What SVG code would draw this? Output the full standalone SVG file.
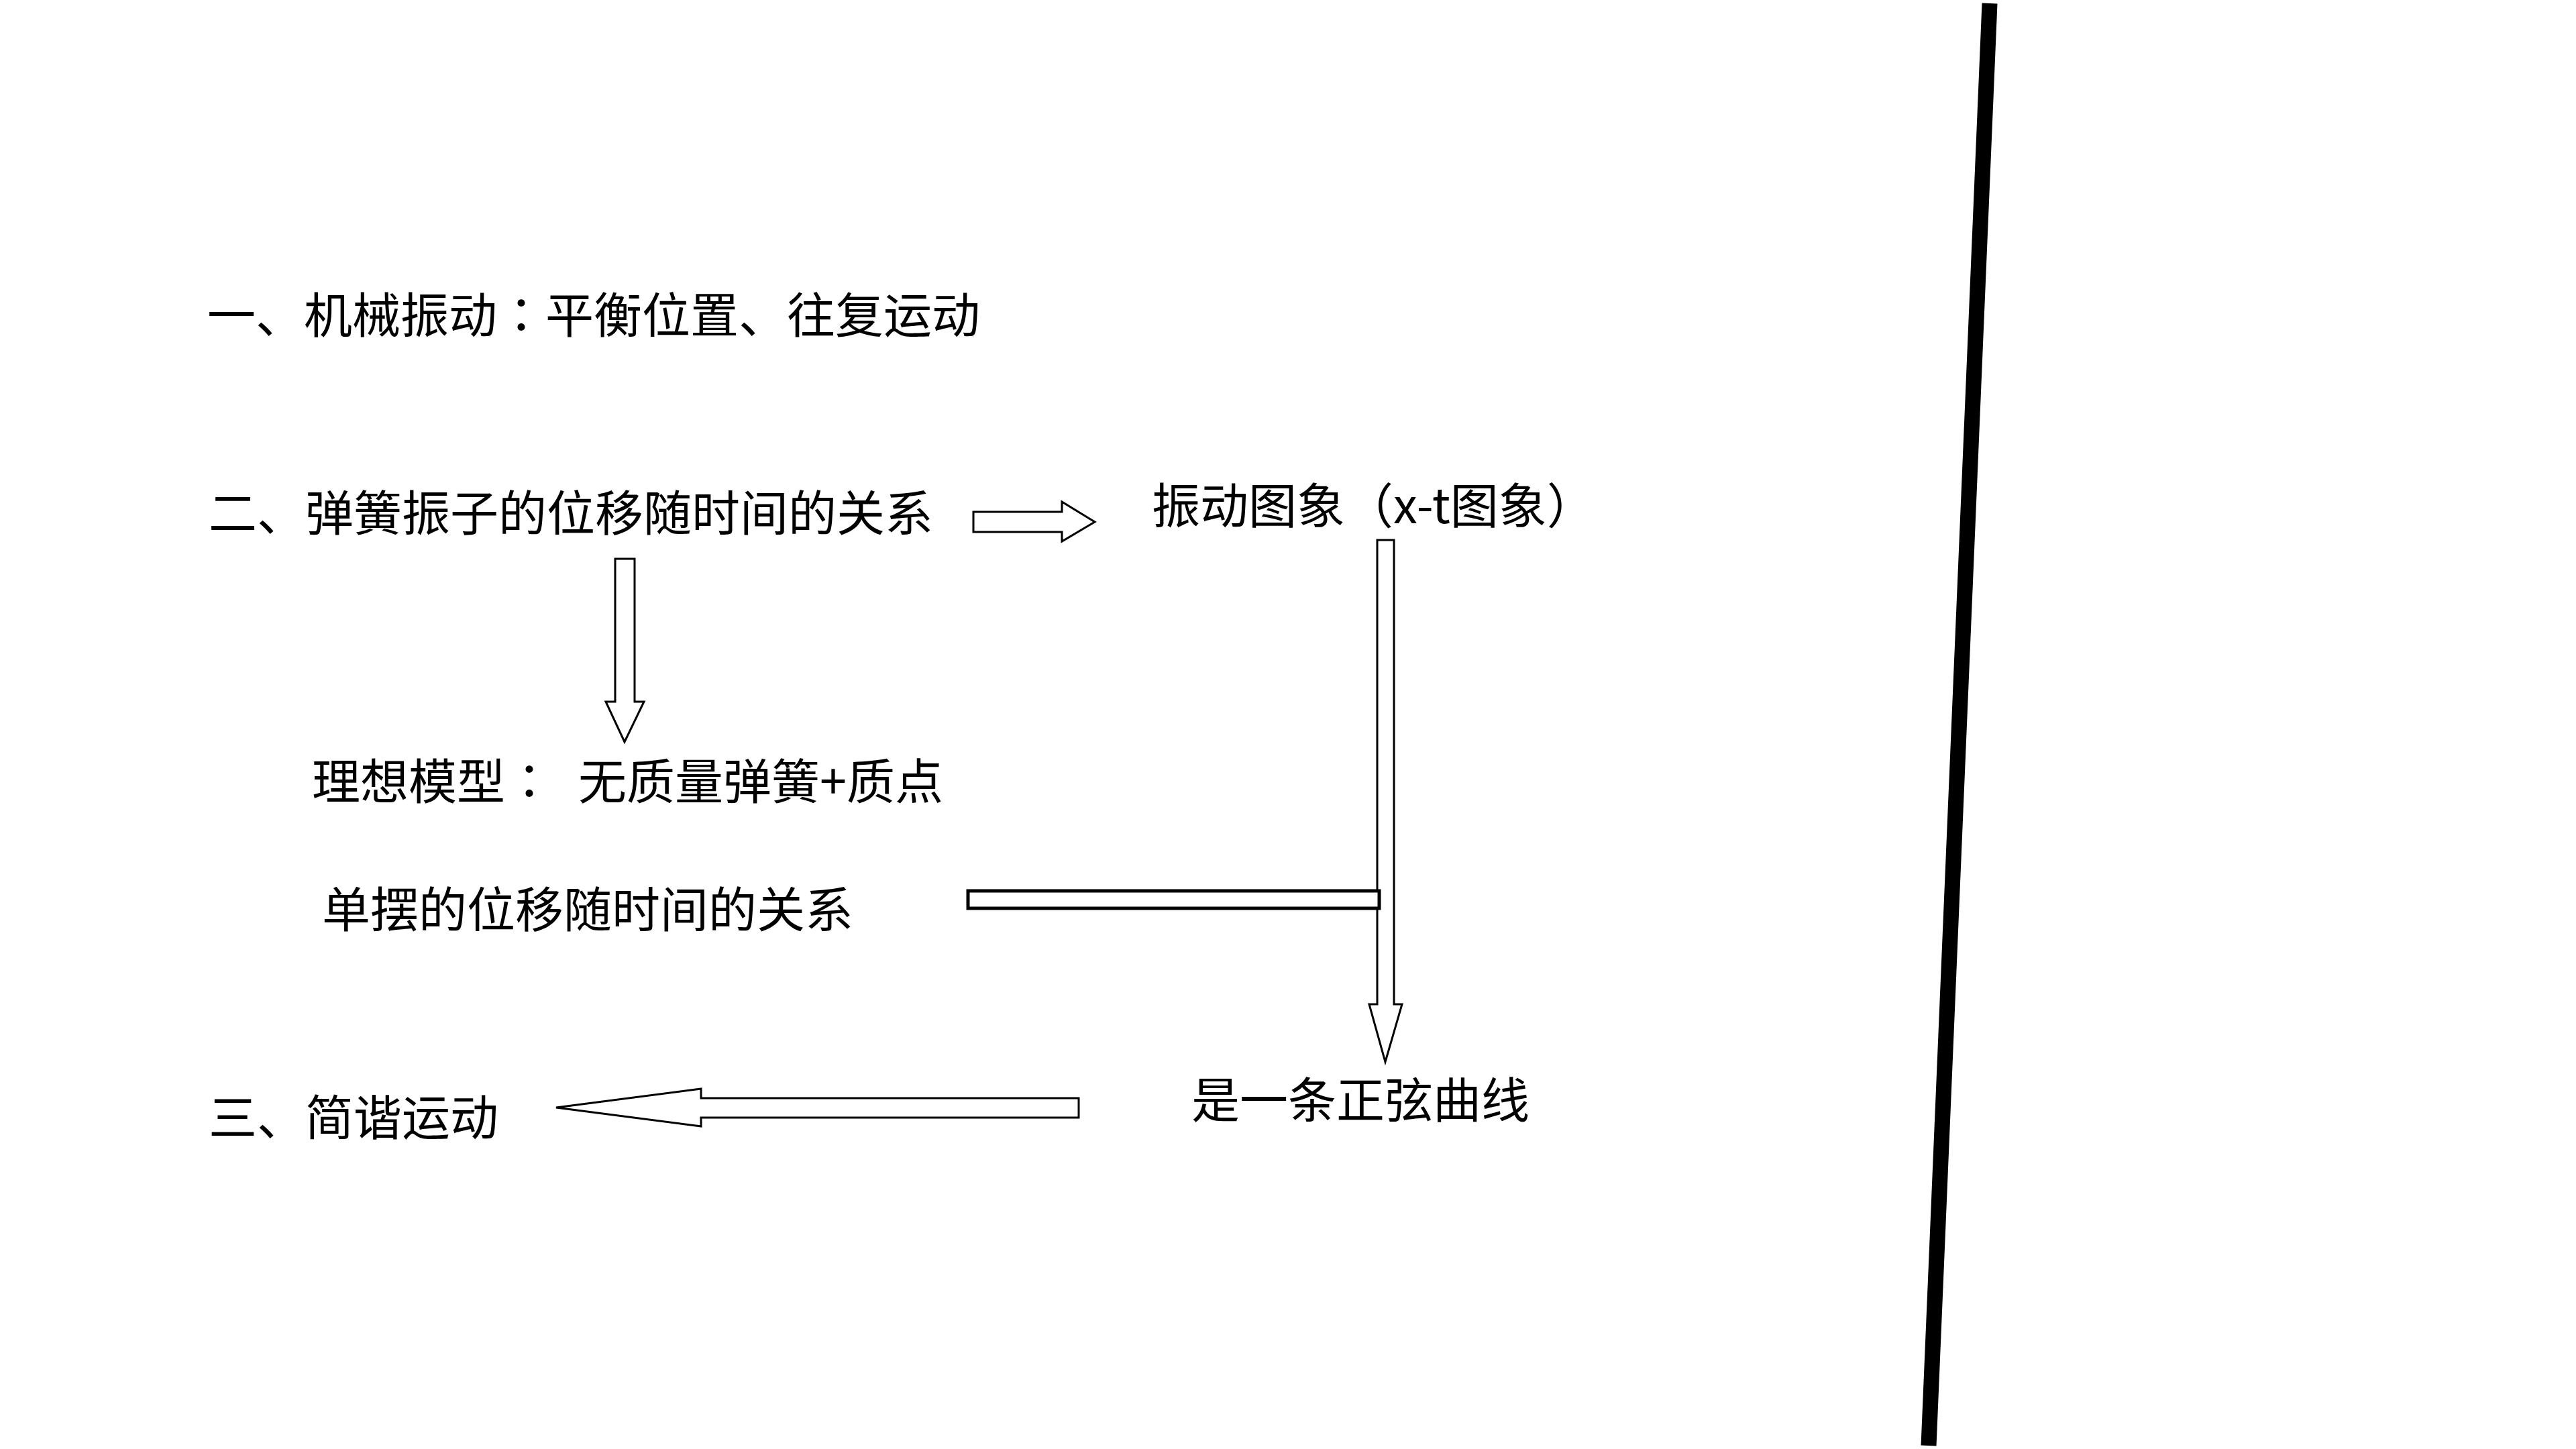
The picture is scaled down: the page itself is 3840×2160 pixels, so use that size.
<svg xmlns="http://www.w3.org/2000/svg" width="3840" height="2160" viewBox="0 0 3840 2160">
<style>
text{font-family:"Noto Sans CJK SC","Noto Sans",sans-serif;font-size:72px;fill:#000}
.c{font-family:"Noto Sans CJK TC","Noto Sans CJK SC",sans-serif}
.arr{fill:#fff;stroke:#000;stroke-width:3;stroke-linejoin:miter}
.bar{fill:#fff;stroke:#000;stroke-width:5}
</style>
<rect width="3840" height="2160" fill="#fff"/>
<g id="t1"><text x="309" y="496">一、机械振动<tspan class="c">：</tspan>平衡位置、往复运动</text></g>
<g id="t2"><text x="311" y="791">二、弹簧振子的位移随时间的关系</text></g>
<g id="t3"><text x="1717" y="780">振动图象（x-t图象）</text></g>
<g id="t4"><text x="465" y="1191">理想模型<tspan class="c">：</tspan><tspan x="862">无质量弹簧+质点</tspan></text></g>
<g id="t5"><text x="480" y="1382">单摆的位移随时间的关系</text></g>
<g id="t6"><text x="311" y="1692">三、简谐运动</text></g>
<g id="t7"><text x="1776" y="1666">是一条正弦曲线</text></g>
<g id="connectors">
<polygon class="arr" points="1451,763 1583,763 1583,748 1632,778 1583,807 1583,793 1451,793"/>
<polygon class="arr" points="917,833 946,833 946,1046 960,1046 931,1106 903,1046 917,1046"/>
<polygon class="arr" points="2053,805 2078,805 2078,1497 2090,1497 2065,1583 2041,1497 2053,1497"/>
<polygon class="arr" points="1608,1637 1045,1637 1045,1623 829,1651 1045,1679 1045,1666 1608,1666"/>
<rect class="bar" x="1443" y="1328" width="613" height="26"/>
</g>
<g id="divider"><line x1="2966" y1="5" x2="2875" y2="2155" stroke="#000" stroke-width="23"/></g>
</svg>
